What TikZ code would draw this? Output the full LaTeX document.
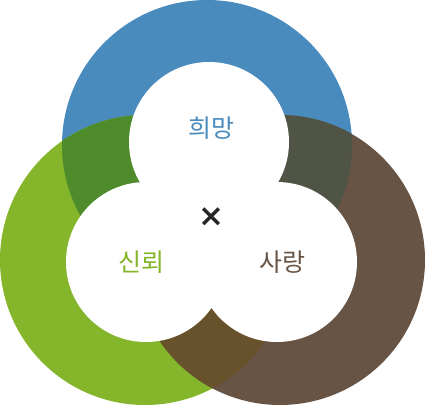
\documentclass[tikz,border=0pt]{standalone}
\usepackage{fontspec}
\usetikzlibrary{calc}
\newfontfamily\krfont{Noto Sans CJK KR}
\newfontfamily\symfont{DejaVu Sans}
\definecolor{hopeblue}{HTML}{4A8BBE}
\definecolor{trustgreen}{HTML}{84B52B}
\definecolor{lovebrown}{HTML}{685444}
\definecolor{hopetrust}{HTML}{4E8B2A}
\definecolor{hopelove}{HTML}{4F5444}
\definecolor{trustlove}{HTML}{67522B}
\tikzset{
    ringlabel/.style = {font = \krfont\fontsize{25}{30}\selectfont, inner sep = 0pt}
}
\begin{document}
\begin{tikzpicture}[x = 1pt, y = -1pt]
    \useasboundingbox (0, 0) rectangle (425, 405);
    \coordinate (hope) at (207, 145);
    \coordinate (trust) at (145, 260);
    \coordinate (love) at (280, 260);
    \foreach \c/\col in {hope/hopeblue, trust/trustgreen, love/lovebrown}{
        \fill[\col] (\c) circle (145pt);
    }
    % overlaps of two rings
    \foreach \a/\b/\col in {hope/trust/hopetrust, hope/love/hopelove, trust/love/trustlove}{
        \begin{scope}
            \clip (\a) circle (145pt);
            \fill[\col] (\b) circle (145pt);
        \end{scope}
    }
    % white centres
    \foreach \x/\y in {209/142, 146/262, 277/262}{
        \fill[white] (\x, \y) circle (80pt);
    }
    \node[ringlabel, text = hopeblue] (hopelabel) at (211, 128) {희망};
    \node[ringlabel, text = trustgreen] (trustlabel) at (141, 262) {신뢰};
    \node[ringlabel, text = lovebrown] (lovelabel) at (282, 262) {사랑};
    \node[font = \symfont\bfseries\fontsize{31}{34}\selectfont, text = black!85, inner sep = 0pt] (times) at (211.5, 217) {×};
\end{tikzpicture}
\end{document}
